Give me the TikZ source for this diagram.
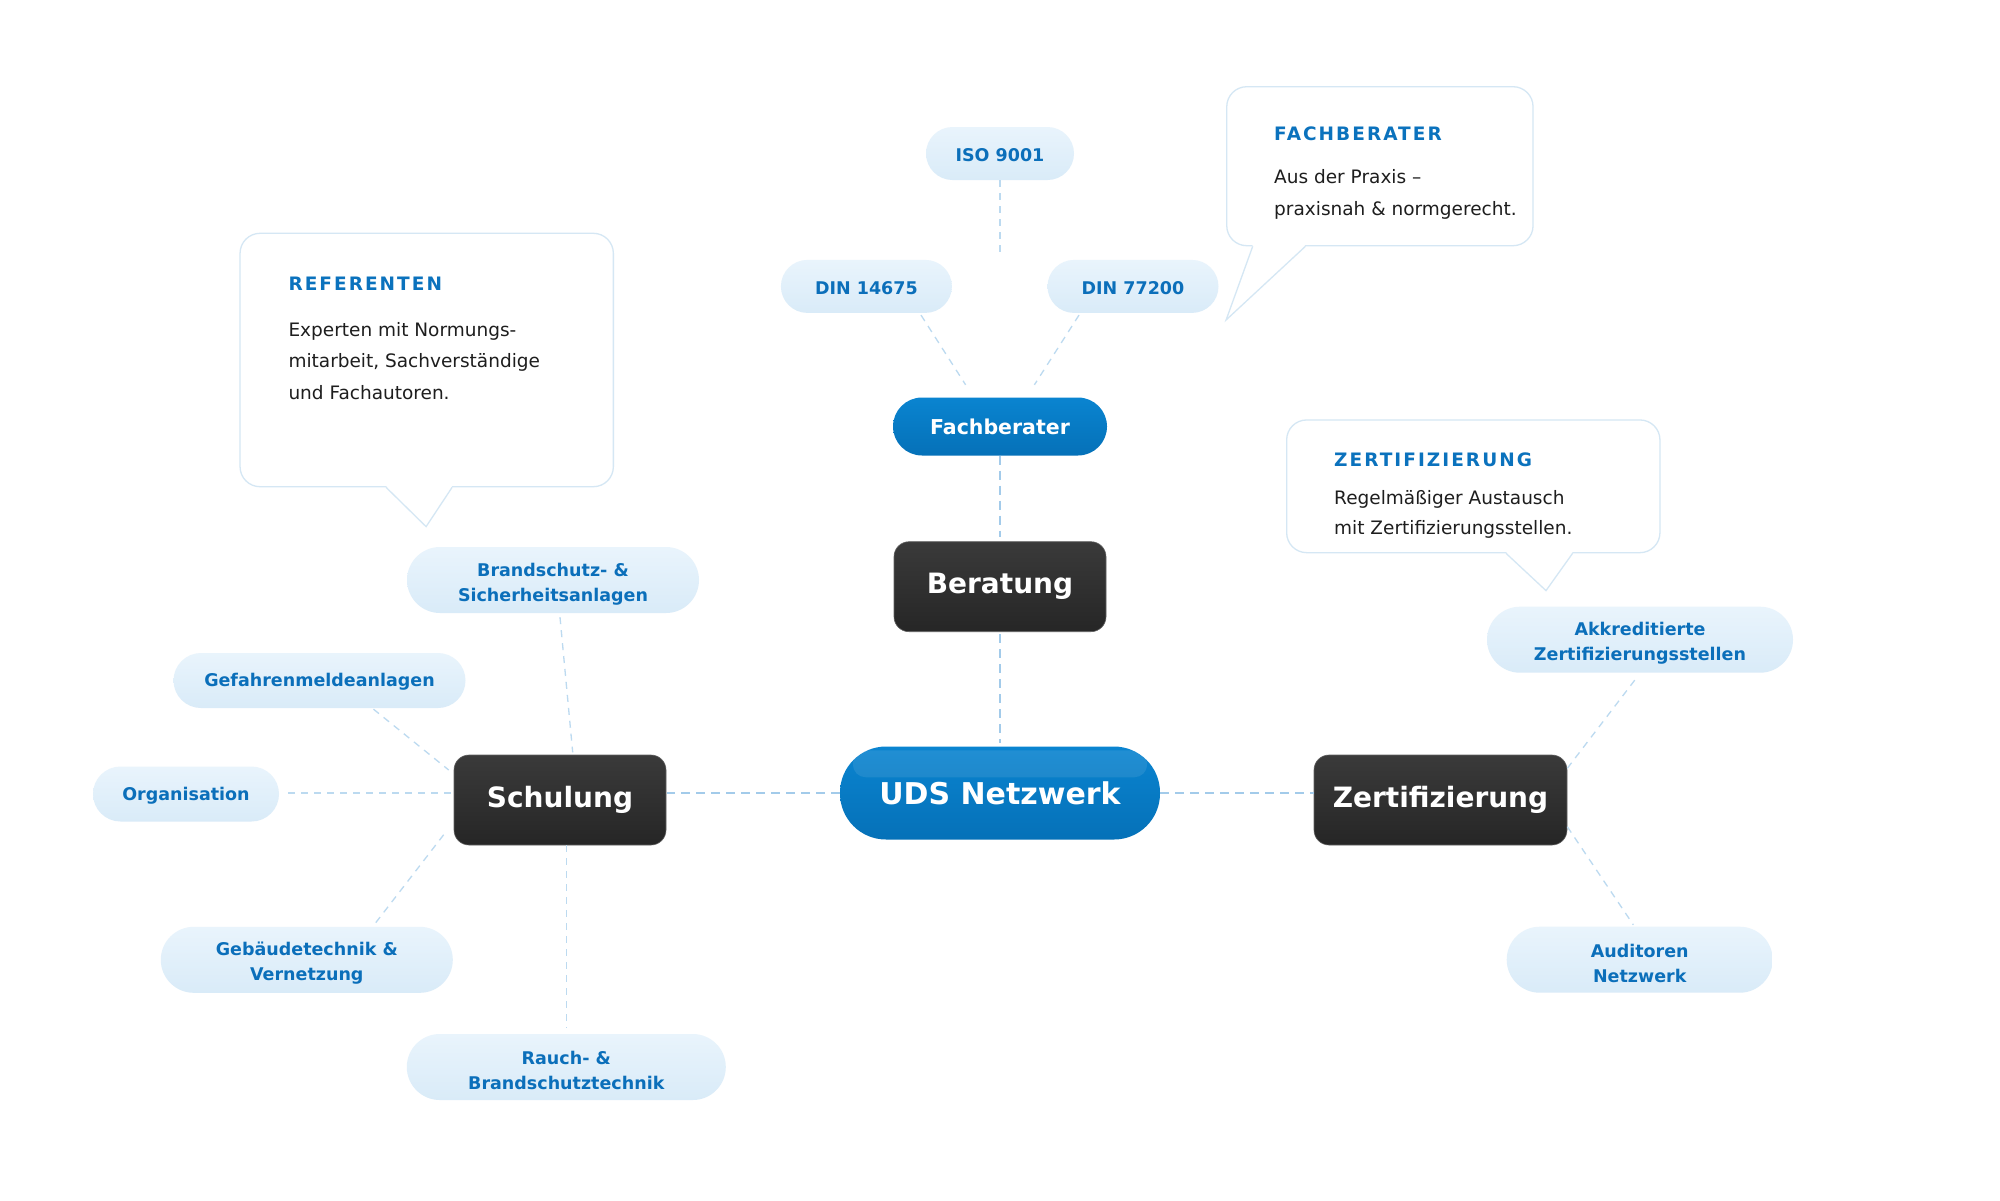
\documentclass[tikz,border=0pt]{standalone}
\usepackage{fontspec}
\setmainfont{DejaVu Sans}
\newfontfamily\titlefam{DejaVu Sans}[LetterSpace=11]
\usetikzlibrary{calc}
\newcommand\twoup{\rule{0pt}{21pt}}
\newcommand\oneup{\rule{0pt}{16pt}}
\definecolor{leafA}{HTML}{E9F4FC}
\definecolor{leafB}{HTML}{D9EBF8}
\definecolor{leafText}{HTML}{0B6FBA}
\definecolor{darkA}{HTML}{3A3A3A}
\definecolor{darkB}{HTML}{262626}
\definecolor{blueA}{HTML}{0A84D0}
\definecolor{blueB}{HTML}{0571B8}
\definecolor{hubLine}{HTML}{A3CBEA}
\definecolor{leafLine}{HTML}{BCDAF0}
\definecolor{calloutLine}{HTML}{D5E7F4}
\definecolor{titleBlue}{HTML}{0B72BD}
\definecolor{bodyText}{HTML}{1E1E1E}
\begin{document}
\begin{tikzpicture}[x=1pt,y=-1pt,
  leaf/.style={rectangle, rounded corners=33pt, top color=leafA, bottom color=leafB, draw=none,
    text=leafText, font={\fontsize{17.5}{25}\selectfont\bfseries}, align=center, inner sep=0pt,
    minimum height=66pt},
  smallleaf/.style={leaf, rounded corners=26.5pt, minimum height=53pt},
  darkbox/.style={rectangle, rounded corners=15pt, top color=darkA, bottom color=darkB,
    draw=darkA!80!white, line width=0.6pt,
    text=white, font={\fontsize{28}{34}\selectfont\bfseries}, inner sep=0pt,
    minimum width=212pt, minimum height=90pt},
  bluepill/.style={rectangle, top color=blueA, bottom color=blueB, draw=none, text=white,
    inner sep=0pt},
  hubline/.style={draw=hubLine, line width=2.2pt, dash pattern=on 9pt off 6pt},
  leafline/.style={draw=leafLine, line width=1.3pt, dash pattern=on 7pt off 6pt},
  cbox/.style={rectangle, rounded corners=20pt, draw=calloutLine, line width=1.3pt, fill=white, inner sep=0pt},
  cborder/.style={draw=calloutLine, line width=1.3pt},
  ctitle/.style={anchor=base west, inner sep=0pt, text=titleBlue, font={\fontsize{18.5}{22}\titlefam\bfseries}},
  cbody/.style={anchor=base west, inner sep=0pt, text=bodyText, font={\fontsize{18.5}{22}\selectfont}}
]
\fill[white] (0,0) rectangle (2000,1200);
\useasboundingbox (0,0) rectangle (2000,1200);

% ---------- callouts ----------
\node[cbox, minimum width=306.3pt, minimum height=159pt] (cf) at (1379.9,166.2) {};
\coordinate (cftip) at ($(cf.south west)+(0,73.6)$);
\fill[white] ($(cf.south west)+(26.6,-1.3)$) -- (cftip) -- ($(cf.south west)+(79.3,-1.3)$) -- cycle;
\draw[cborder] ($(cf.south west)+(26.6,0)$) -- (cftip) -- ($(cf.south west)+(79.3,0)$);
\node[ctitle] (cft) at (1274,140) {FACHBERATER};
\node[cbody] (cfb1) at (1274,183.3) {Aus der Praxis –};
\node[cbody] (cfb2) at (1274,215) {praxisnah \& normgerecht.};

\node[cbox, minimum width=373.3pt, minimum height=253.4pt] (cr) at (426.7,360) {};
\coordinate (crtip) at ($(cr.south west)+(186.7,39.3)$);
\fill[white] ($(cr.south west)+(146.7,-1.3)$) -- (crtip) -- ($(cr.south west)+(212.7,-1.3)$) -- cycle;
\draw[cborder] ($(cr.south west)+(146.7,0)$) -- (crtip) -- ($(cr.south west)+(212.7,0)$);
\node[ctitle] (crt) at (288.3,290.7) {REFERENTEN};
\node[cbody] (crb1) at (288.3,336) {Experten mit Normungs-};
\node[cbody] (crb2) at (288.3,367.7) {mitarbeit, Sachverständige};
\node[cbody] (crb3) at (288.3,399.3) {und Fachautoren.};

\node[cbox, minimum width=373.3pt, minimum height=132.7pt] (cz) at (1473.3,486.3) {};
\coordinate (cztip) at ($(cz.south west)+(260,37.3)$);
\fill[white] ($(cz.south west)+(220,-1.3)$) -- (cztip) -- ($(cz.south west)+(286.6,-1.3)$) -- cycle;
\draw[cborder] ($(cz.south west)+(220,0)$) -- (cztip) -- ($(cz.south west)+(286.6,0)$);
\node[ctitle] (czt) at (1334,466.7) {ZERTIFIZIERUNG};
\node[cbody] (czb1) at (1334,504.3) {Regelmäßiger Austausch};
\node[cbody] (czb2) at (1334,534) {mit Zertifizierungsstellen.};

% ---------- main nodes ----------
\node[bluepill, rounded corners=46pt, minimum width=320pt, minimum height=93pt,
  font={\fontsize{30}{36}\selectfont\bfseries}] (uds) at (1000,793) {UDS Netzwerk};
\fill[white, opacity=0.09, rounded corners=13pt] ($(uds.north west)+(13,4)$) rectangle ($(uds.north east)+(-13,31)$);
\node[bluepill, rounded corners=29pt, minimum width=214pt, minimum height=58pt,
  font={\fontsize{20.5}{24}\selectfont\bfseries}] (fach) at (1000,426.5) {Fachberater};

\node[darkbox] (ber) at (1000,586.7) {Beratung};
\node[darkbox] (sch) at (560,800) {Schulung};
\node[darkbox, minimum width=253pt] (zert) at (1440.5,800) {Zertifizierung};

% ---------- leaves ----------
\node[smallleaf, minimum width=148pt] (iso) at (1000,153.5) {\oneup ISO 9001};
\node[smallleaf, minimum width=171pt] (d1) at (866.4,286.4) {\oneup DIN 14675};
\node[smallleaf, minimum width=171pt] (d2) at (1133,286.4) {\oneup DIN 77200};

\node[leaf, minimum width=292pt] (brand) at (553,580) {\twoup Brandschutz- \&\\Sicherheitsanlagen};
\node[smallleaf, minimum width=292pt, minimum height=55pt, rounded corners=27.5pt] (gef) at (319.5,680.5) {\oneup Gefahrenmeldeanlagen};
\node[smallleaf, minimum width=186pt, minimum height=55pt, rounded corners=27.5pt] (org) at (186,794) {\oneup Organisation};
\node[leaf, minimum width=292pt] (geb) at (306.8,959.8) {\twoup Gebäudetechnik \&\\Vernetzung};
\node[leaf, minimum width=319pt] (rauch) at (566.3,1067) {\twoup Rauch- \&\\Brandschutztechnik};

\node[leaf, minimum width=306pt] (akk) at (1640,639.7) {\twoup Akkreditierte\\Zertifizierungsstellen};
\node[leaf, minimum width=266pt] (aud) at (1639.7,959.7) {\twoup Auditoren\\Netzwerk};

% ---------- connectors ----------
\draw[hubline, shorten >=4pt] (fach.south) -- (ber.north);
\draw[hubline, shorten <=2pt, shorten >=3pt] (ber.south) -- (uds.north);
\draw[hubline, shorten >=1pt] (uds.west) -- (uds.west -| sch.east);
\draw[hubline] (uds.east) -- (uds.east -| zert.west);

\draw[leafline] (iso.south) -- ($(iso.south)+(0,72)$);
\draw[leafline] ($(d1.south)+(54.6,2)$) -- ($(fach.north)+(-34.4,-12.5)$);
\draw[leafline] ($(d2.south)+(-54,2)$) -- ($(fach.north)+(34.4,-12.5)$);

\draw[leafline] ($(brand.south)+(7,4)$) -- ($(sch.north)+(12.7,-2.4)$);
\draw[leafline] ($(gef.south)+(54,1)$) -- ($(sch.west)+(-5,-30)$);
\draw[leafline] ($(org.east)+(9,-1)$) -- ($(sch.west)+(-1,-7)$);
\draw[leafline] ($(geb.north)+(69,-4)$) -- ($(sch.west)+(-7.6,31.6)$);
\draw[leafline, shorten >=6pt] (rauch.north |- sch.south) -- (rauch.north);

\draw[leafline] ($(zert.east)+(0,-31.7)$) -- ($(akk.south)+(-4,5.6)$);
\draw[leafline] ($(zert.east)+(0,26.7)$) -- ($(aud.north)+(-6.4,-1.7)$);
\end{tikzpicture}
\end{document}
